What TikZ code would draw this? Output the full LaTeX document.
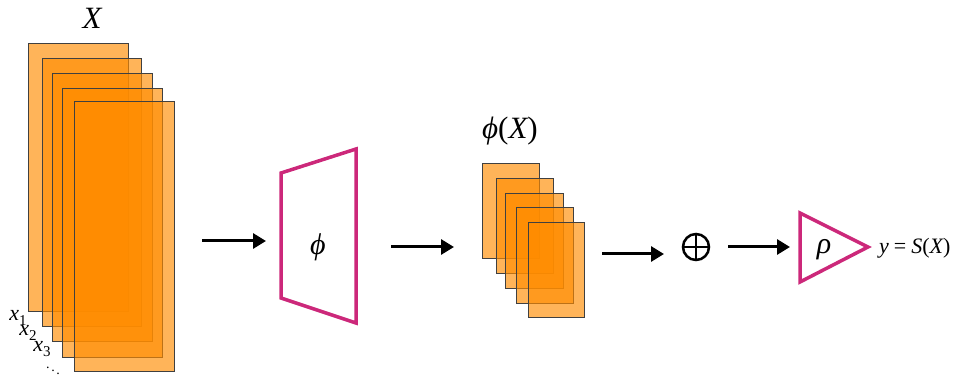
\documentclass[tikz,border=0pt]{standalone}
\usepackage{fontspec}
\setmainfont{Liberation Serif}
\usetikzlibrary{arrows.meta}
\definecolor{og}{RGB}{255,140,0}
\definecolor{mag}{RGB}{204,40,122}
\newcommand{\subdig}[1]{\raisebox{-5pt}{\fontsize{15}{15}\selectfont\upshape #1}}
\begin{document}
\begin{tikzpicture}[x=1pt,y=-1pt,
  sheet/.style={draw=black!75,line width=1pt,fill=og,fill opacity=0.65},
  flow/.style={line width=3pt,-{Triangle[length=13pt,width=15pt]}},
  netbox/.style={draw=mag,line width=3.5pt,line join=miter,fill=white},
  lbl/.style={inner sep=0pt},
  sublbl/.style={inner sep=0pt,font=\fontsize{22}{24}\selectfont\itshape}]
\useasboundingbox (0,0) rectangle (964,379);
% big stack X
\foreach \a/\b/\c/\d [count=\i] in {28/44/128/312,42/59/141/327,52/74/152/342,62/89/162/357,74/102/174/371}{
  \path[sheet] (\a,\b) rectangle (\c,\d);
}
\node[lbl,font=\fontsize{31}{33}\selectfont\itshape] (X) at (92,18) {X};
\node[sublbl] (x1) at (18,318) {x\subdig{1}};
\node[sublbl] (x2) at (28,333) {x\subdig{2}};
\node[sublbl] (x3) at (42,349) {x\subdig{3}};
\node[lbl,font=\fontsize{14}{16}\selectfont] (dd) at (53,368) {$\ddots$};
% phi trapezoid
\draw[netbox] (281,173) -- (356,149) -- (356,323) -- (281,298) -- cycle;
\node[lbl,font=\fontsize{30}{32}\selectfont\itshape] (phi) at (318,247) {ϕ};
% small stack phi(X)
\foreach \a/\b/\c/\d in {482/164/539/259,496/179/553/274,505/194/563/289,516/208/573/304,528/223/584/318}{
  \path[sheet] (\a,\b) rectangle (\c,\d);
}
\node[lbl,font=\fontsize{31}{33}\selectfont] (phiX) at (510,131) {\itshape ϕ\upshape(\itshape X\upshape)};
% sum
\node[circle,draw,line width=2.5pt,minimum size=26pt,inner sep=0pt] (sum) at (696,247) {};
\draw[line width=2.5pt] (sum.north) -- (sum.south) (sum.west) -- (sum.east);
% rho triangle
\draw[netbox] (800,213) -- (868,247) -- (800,282) -- cycle;
\node[lbl,font=\fontsize{30}{32}\selectfont\itshape] (rho) at (824,250) {ρ};
\node[lbl,font=\fontsize{22}{24}\selectfont,anchor=west] (out) at (879,248) {\itshape y\upshape\hspace{5pt}=\hspace{5pt}\itshape S\upshape(\itshape X\upshape)};
% arrows
\coordinate (a1s) at (202,241); \coordinate (a1e) at (266,241);
\coordinate (a2s) at (391,247); \coordinate (a2e) at (454,247);
\coordinate (a3s) at (602,254); \coordinate (a3e) at (664,254);
\coordinate (a4s) at (728,247); \coordinate (a4e) at (790,247);
\draw[flow] (a1s) -- (a1e);
\draw[flow] (a2s) -- (a2e);
\draw[flow] (a3s) -- (a3e);
\draw[flow] (a4s) -- (a4e);
\end{tikzpicture}
\end{document}
